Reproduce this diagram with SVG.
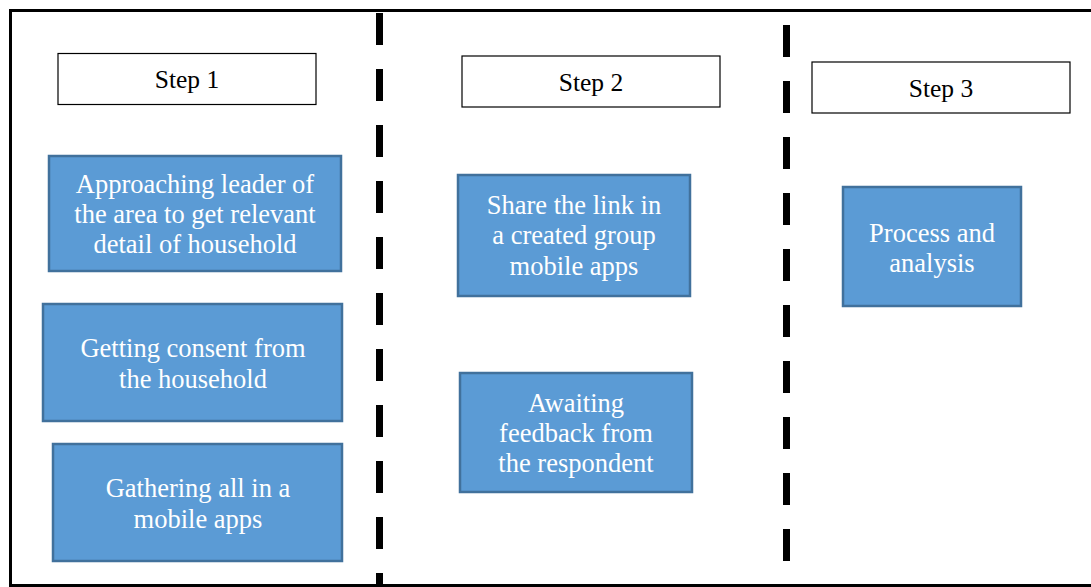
<svg xmlns="http://www.w3.org/2000/svg" width="1091" height="587" viewBox="0 0 1091 587">
  <style>
    .frame { fill: none; stroke: #000; stroke-width: 3; }
    .divider { stroke: #000; stroke-width: 7; stroke-dasharray: 32 24; fill: none; }
    .step { fill: #fff; stroke: #000; stroke-width: 1.2; }
    .step-text { font-family: "Liberation Serif", "Times New Roman", serif; font-size: 25.5px; fill: #000; text-anchor: middle; }
    .task { fill: #5B9BD5; stroke: #41719C; stroke-width: 2.5; }
    .task-text { font-family: "Liberation Serif", "Times New Roman", serif; font-size: 26.5px; fill: #fff; text-anchor: middle; }
  </style>
  <rect width="1091" height="587" fill="#fff"/>

  <!-- outer frame (open on the right) -->
  <path class="frame" d="M1095 10.5 H10.5 V585.5 H1095"/>

  <!-- column dividers -->
  <g id="connectors">
    <line class="divider" x1="379.5" y1="13" x2="379.5" y2="590"/>
    <line class="divider" x1="786.5" y1="25" x2="786.5" y2="561"/>
  </g>

  <!-- step headers -->
  <g id="step1">
    <rect class="step" x="58" y="53.5" width="258" height="51"/>
    <text class="step-text" x="187" y="88">Step 1</text>
  </g>
  <g id="step2">
    <rect class="step" x="462" y="56" width="258" height="51"/>
    <text class="step-text" x="591" y="91">Step 2</text>
  </g>
  <g id="step3">
    <rect class="step" x="812" y="62" width="258" height="51"/>
    <text class="step-text" x="941" y="97">Step 3</text>
  </g>

  <!-- step 1 tasks -->
  <g id="approach-leader">
    <rect class="task" x="49" y="156" width="292" height="115"/>
    <text class="task-text" x="195" y="193">Approaching leader of</text>
    <text class="task-text" x="195" y="223">the area to get relevant</text>
    <text class="task-text" x="195" y="253">detail of household</text>
  </g>
  <g id="get-consent">
    <rect class="task" x="43" y="304" width="299" height="117"/>
    <text class="task-text" x="193" y="357">Getting consent from</text>
    <text class="task-text" x="193" y="388">the household</text>
  </g>
  <g id="gather">
    <rect class="task" x="53" y="444" width="289" height="117"/>
    <text class="task-text" x="198" y="497">Gathering all in a</text>
    <text class="task-text" x="198" y="528">mobile apps</text>
  </g>

  <!-- step 2 tasks -->
  <g id="share-link">
    <rect class="task" x="458" y="175" width="232" height="121"/>
    <text class="task-text" x="574" y="214">Share the link in</text>
    <text class="task-text" x="574" y="244">a created group</text>
    <text class="task-text" x="574" y="275">mobile apps</text>
  </g>
  <g id="await-feedback">
    <rect class="task" x="460" y="373" width="232" height="119"/>
    <text class="task-text" x="576" y="412">Awaiting</text>
    <text class="task-text" x="576" y="442">feedback from</text>
    <text class="task-text" x="576" y="472">the respondent</text>
  </g>

  <!-- step 3 task -->
  <g id="process">
    <rect class="task" x="843" y="187" width="178" height="119"/>
    <text class="task-text" x="932" y="242">Process and</text>
    <text class="task-text" x="932" y="272">analysis</text>
  </g>
</svg>
